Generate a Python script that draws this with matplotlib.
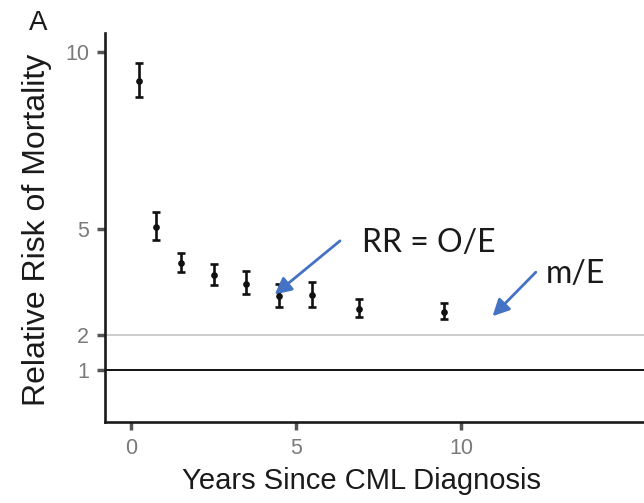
import matplotlib.pyplot as plt
import numpy as np

# relative risk of mortality by years since diagnosis
years = [0.25, 0.75, 1.5, 2.5, 3.5, 4.5, 5.5, 6.9, 9.5]
rr = [9.19, 5.06, 4.04, 3.68, 3.45, 3.09, 3.12, 2.73, 2.65]
rr_low = [8.72, 4.68, 3.78, 3.40, 3.15, 2.79, 2.79, 2.49, 2.46]
rr_high = [9.71, 5.48, 4.32, 4.00, 3.80, 3.43, 3.50, 3.01, 2.90]

x_ticks = [0, 5, 10]
y_ticks = [1, 2, 5, 10]

yerr = np.array([np.subtract(rr, rr_low), np.subtract(rr_high, rr)])

fig = plt.figure(figsize=(6.44, 5.03), dpi=100)
ax = fig.add_axes([0.163, 0.161, 0.837, 0.773])

ax.axhline(2, color='#c8c8c8', lw=1.3, zorder=1)
ax.axhline(1, color='black', lw=1.3, zorder=1)

ax.errorbar(years, rr, yerr=yerr, fmt='o', color='#111111', ms=3.8,
            elinewidth=1.9, capsize=3, capthick=1.9, zorder=3)

ax.set_xlim(-0.79, 15.55)
ax.set_ylim(-0.47, 10.54)
ax.set_xticks(x_ticks)
ax.set_yticks(y_ticks)

for side in ['top', 'right']:
    ax.spines[side].set_visible(False)
for side in ['left', 'bottom']:
    ax.spines[side].set_linewidth(1.9)
    ax.spines[side].set_color('#1a1a1a')

ax.tick_params(axis='both', length=5.5, width=2.5, color='#555555',
               labelcolor='#7a7a7a', labelsize=15.5, pad=6)
for lab in ax.get_xticklabels() + ax.get_yticklabels():
    lab.set_family('Liberation Sans')

ax.set_xlabel('Years Since CML Diagnosis', fontsize=21, family='Liberation Sans',
              color='#1a1a1a', labelpad=6)
ax.xaxis.label.set_x(0.475)
ax.set_ylabel('Relative Risk of Mortality', fontsize=23, family='Liberation Sans',
              color='#1a1a1a')
ax.yaxis.set_label_coords(-0.098, 0.494)

fig.text(0.045, 0.94, 'A', fontsize=20, family='Liberation Sans', color='#1a1a1a')

# labels with blue arrows
blue = '#4472C4'
head = '-|>,head_length=1.0,head_width=0.5'
ax.annotate('', xy=(4.29, 3.09), xytext=(6.40, 4.71),
            arrowprops=dict(arrowstyle=head, color=blue, lw=2))
ax.annotate('', xy=(10.9, 2.47), xytext=(12.33, 3.83),
            arrowprops=dict(arrowstyle=head, color=blue, lw=2))
ax.text(7.0, 4.34, 'RR = O/E', fontsize=23, family='Lato', color='#1a1a1a')
ax.text(12.57, 3.46, 'm/E', fontsize=23, family='Lato', color='#1a1a1a')

fig.savefig('out.png', dpi=100)
